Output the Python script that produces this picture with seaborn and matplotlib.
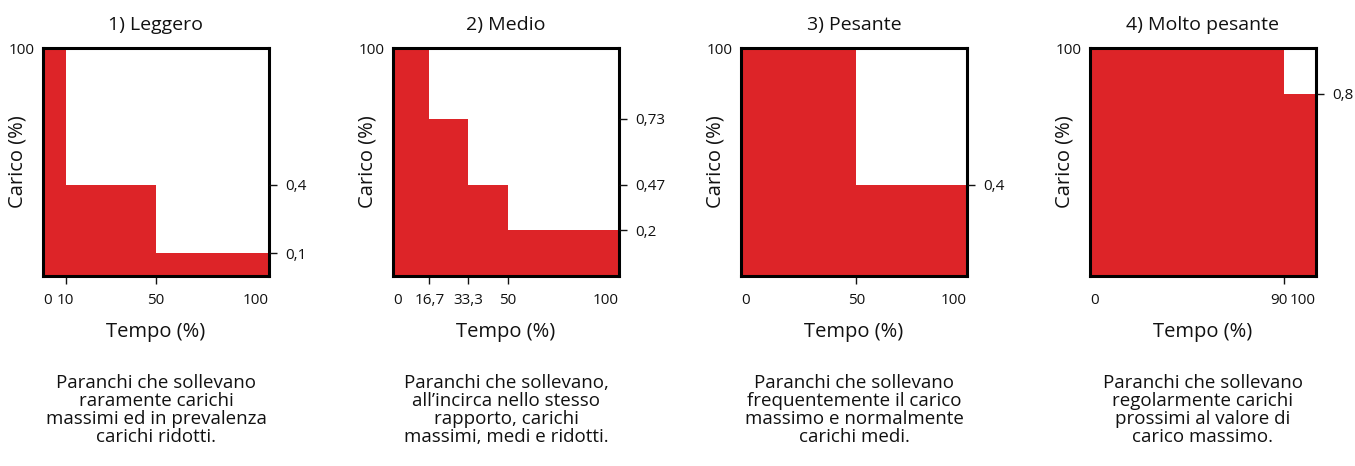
import numpy as np
import pandas as pd
import seaborn as sns
import matplotlib
matplotlib.use("Agg")
import matplotlib.pyplot as plt
from matplotlib.transforms import ScaledTranslation

# step edges on the time axis (%) and load level of each step (fraction of max)
titles = ["1) Leggero", "2) Medio", "3) Pesante", "4) Molto pesante"]
time_edges = [
    [0, 10, 50, 100],
    [0, 16.1, 33.2, 50.7, 100],
    [0, 51, 100],
    [0, 86, 100],
]
load_levels = [
    [1.0, 0.40, 0.10],
    [1.0, 0.69, 0.40, 0.20],
    [1.0, 0.40],
    [1.0, 0.80],
]
time_tick_labels = [
    ["0", "10", "50", "100"],
    ["0", "16,7", "33,3", "50", "100"],
    ["0", "50", "100"],
    ["0", "90", "100"],
]
load_tick_labels = [
    ["0,4", "0,1"],
    ["0,73", "0,47", "0,2"],
    ["0,4"],
    ["0,8"],
]
captions = [
    "Paranchi che sollevano\nraramente carichi\nmassimi ed in prevalenza\ncarichi ridotti.",
    "Paranchi che sollevano,\nall\u2019incirca nello stesso\nrapporto, carichi\nmassimi, medi e ridotti.",
    "Paranchi che sollevano\nfrequentemente il carico\nmassimo e normalmente\ncarichi medi.",
    "Paranchi che sollevano\nregolarmente carichi\nprossimi al valore di\ncarico massimo.",
]

RED = "#DD2428"
W, H = 1355, 466
sns.set_style("white")
plt.rcParams["font.family"] = ["Open Sans", "DejaVu Sans"]
for key in ["text.color", "axes.labelcolor", "xtick.color", "ytick.color"]:
    plt.rcParams[key] = "#111111"

fig = plt.figure(figsize=(W / 100, H / 100), dpi=100)
lefts = [43, 393, 741, 1090]
ax_w, ax_h, ax_top = 226, 228, 48

for i in range(4):
    ax = fig.add_axes([lefts[i] / W, 1 - (ax_top + ax_h) / H, ax_w / W, ax_h / H])
    edges = time_edges[i]
    levels = load_levels[i]
    df = pd.DataFrame({
        "tempo": [(a + b) / 2 for a, b in zip(edges[:-1], edges[1:])],
        "carico": levels,
    })
    sns.histplot(data=df, x="tempo", weights="carico", bins=edges,
                 element="step", fill=True, color=RED, alpha=1, linewidth=0, ax=ax)
    ax.set_xlim(0, 100)
    ax.set_ylim(0, 1)

    for s in ax.spines.values():
        s.set_visible(True)
        s.set_linewidth(2.2)
        s.set_color("black")
        s.set_zorder(5)

    # x ticks: 0 left aligned, 100 right aligned, inner ones centred
    ax.set_xticks(edges)
    ax.set_xticklabels(time_tick_labels[i], fontsize=11)
    ax.tick_params(axis="x", direction="out", length=6, width=1, pad=6, bottom=True)
    xt = ax.xaxis.get_major_ticks()
    xt[0].tick1line.set_visible(False)
    xt[-1].tick1line.set_visible(False)
    xt[0].label1.set_horizontalalignment("left")
    xt[-1].label1.set_horizontalalignment("right")
    if i == 3:
        # "90" sits just left of "100" in the original
        lab = xt[1].label1
        lab.set_transform(lab.get_transform() + ScaledTranslation(-5 / 100, 0, fig.dpi_scale_trans))

    # left: only "100" at the top
    ax.set_yticks([1.0])
    ax.set_yticklabels(["100"], fontsize=11)
    ax.tick_params(axis="y", length=0, pad=6)
    ax.set_xlabel("Tempo (%)", fontsize=14.5, labelpad=10)
    ax.set_ylabel("Carico (%)", fontsize=14.5)
    ax.yaxis.set_label_coords(-0.07, 0.5)
    ax.set_title(titles[i], fontsize=14, pad=13)

    # right side: load levels of the lower steps
    ax2 = ax.twinx()
    ax2.set_ylim(0, 1)
    ax2.set_yticks(levels[1:])
    ax2.set_yticklabels(load_tick_labels[i], fontsize=11)
    ax2.tick_params(axis="y", direction="out", length=6, width=1, pad=6, right=True)
    for s in ax2.spines.values():
        s.set_visible(False)

    fig.text((lefts[i] + ax_w / 2) / W, 1 - 374 / H, captions[i], ha="center", va="top",
             fontsize=13.5, linespacing=1.0)

fig.savefig("out.png", dpi=100)
